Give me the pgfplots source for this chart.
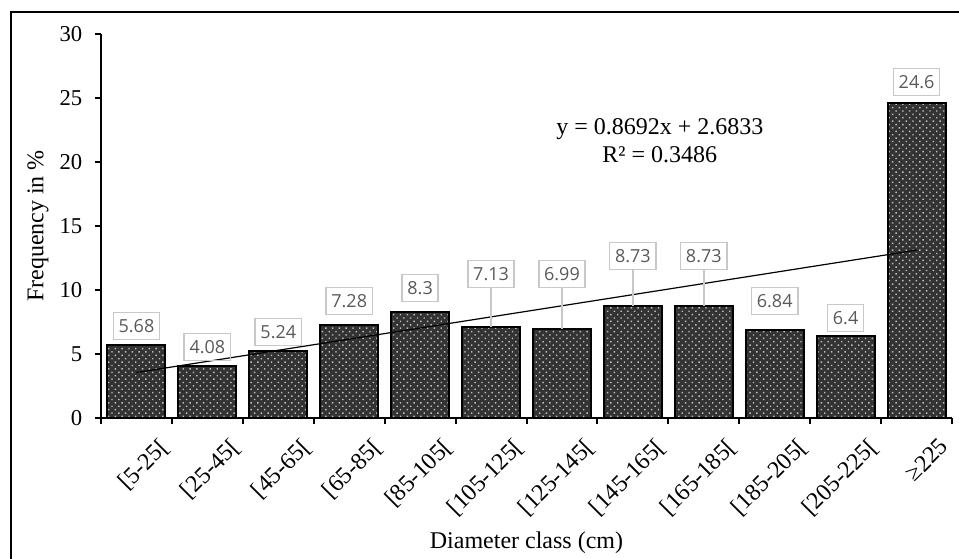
\documentclass[border=0pt]{standalone}
\usepackage{pgfplots}
\pgfplotsset{compat=1.18}
\usetikzlibrary{patterns.meta}
\usepackage{fontspec}
\setmainfont{Liberation Serif}
\newfontfamily\lblfont{Open Sans}
\definecolor{lblgray}{RGB}{89,89,89}
\definecolor{boxgray}{RGB}{200,200,200}
\newcommand\bigfont{\fontsize{18pt}{21pt}\selectfont}

\begin{document}
\begin{tikzpicture}
\useasboundingbox (0,0) rectangle (719.25pt,419.25pt);
\draw[line width=1.2pt] (8.25pt,0) -- (8.25pt,410.25pt) -- (719.25pt,410.25pt);
\begin{axis}[
  at={(75.75pt,105.75pt)}, anchor=south west,
  width=638.25pt, height=288pt, scale only axis,
  xmin=-0.5, xmax=11.5, ymin=0, ymax=30,
  axis x line*=bottom, axis y line*=left,
  axis line style={line width=1.5pt, -},
  tick align=outside,
  major tick length=4.5pt, minor tick length=4.5pt,
  every tick/.style={line width=1.5pt, black},
  xtick={0,...,11},
  xticklabels={{[5-25[},{[25-45[},{[45-65[},{[65-85[},{[85-105[},{[105-125[},{[125-145[},{[145-165[},{[165-185[},{[185-205[},{[205-225[},{≥225}},
  major x tick style={draw=none},
  minor xtick={-0.5,0.5,...,11.5},
  ytick={0,5,...,30},
  yticklabel style={font=\fontsize{17pt}{20pt}\selectfont, xshift=-6pt},
  label style={font=\bigfont},
  xticklabel style={font=\fontsize{18pt}{21pt}\selectfont, rotate=45, anchor=north east, inner sep=1pt, yshift=-17pt, xshift=6pt},
  ylabel={Frequency in \%},
  ylabel style={at={(axis description cs:-0.074,0.5)}, anchor=center},
  xlabel={Diameter class (cm)},
  xlabel style={at={(axis description cs:0.5,-0.325)}, anchor=center},
  /pgf/number format/assume math mode=true,
  clip=false,
]
\addplot[ybar, bar width=43.5pt, draw=black, line width=1.5pt, fill=black!80,
  postaction={pattern={Dots[distance=3.6pt, radius=0.75pt, angle=45]}, pattern color=gray!50}] coordinates {
(0,5.68) (1,4.08) (2,5.24) (3,7.28) (4,8.3) (5,7.13)
(6,6.99) (7,8.73) (8,8.73) (9,6.84) (10,6.4) (11,24.6)
};
% linear trend line
\addplot[black, line width=0.9pt] coordinates {(0,3.5525) (11,13.1137)};
% leader lines
\addplot[boxgray, line width=1.1pt] coordinates {(5,7.13) (5,10.2)};
\addplot[boxgray, line width=1.1pt] coordinates {(6,6.99) (6,10.2)};
\addplot[boxgray, line width=1.1pt] coordinates {(7,8.73) (7,11.6)};
\addplot[boxgray, line width=1.1pt] coordinates {(8,8.73) (8,11.6)};
% data labels
\addplot[draw=none, nodes near coords, point meta=explicit symbolic,
  nodes near coords style={anchor=center, font=\lblfont\fontsize{13.5pt}{15pt}\selectfont,
    text=lblgray, draw=boxgray, line width=1.1pt, inner xsep=4pt, minimum height=20pt}]
  table[meta=lab] {
x y lab
0 7.19 5.68
1 5.55 4.08
2 6.72 5.24
3 9.14 7.28
4 10.16 8.3
5 11.25 7.13
6 11.25 6.99
7 12.66 8.73
8 12.66 8.73
9 9.14 6.84
10 7.81 6.4
11 26.25 24.6
};
\node[align=center, font=\bigfont] at (axis cs:7.38,21.64)
  {y = 0.8692x + 2.6833\\R² = 0.3486};
\end{axis}
\end{tikzpicture}
\end{document}
